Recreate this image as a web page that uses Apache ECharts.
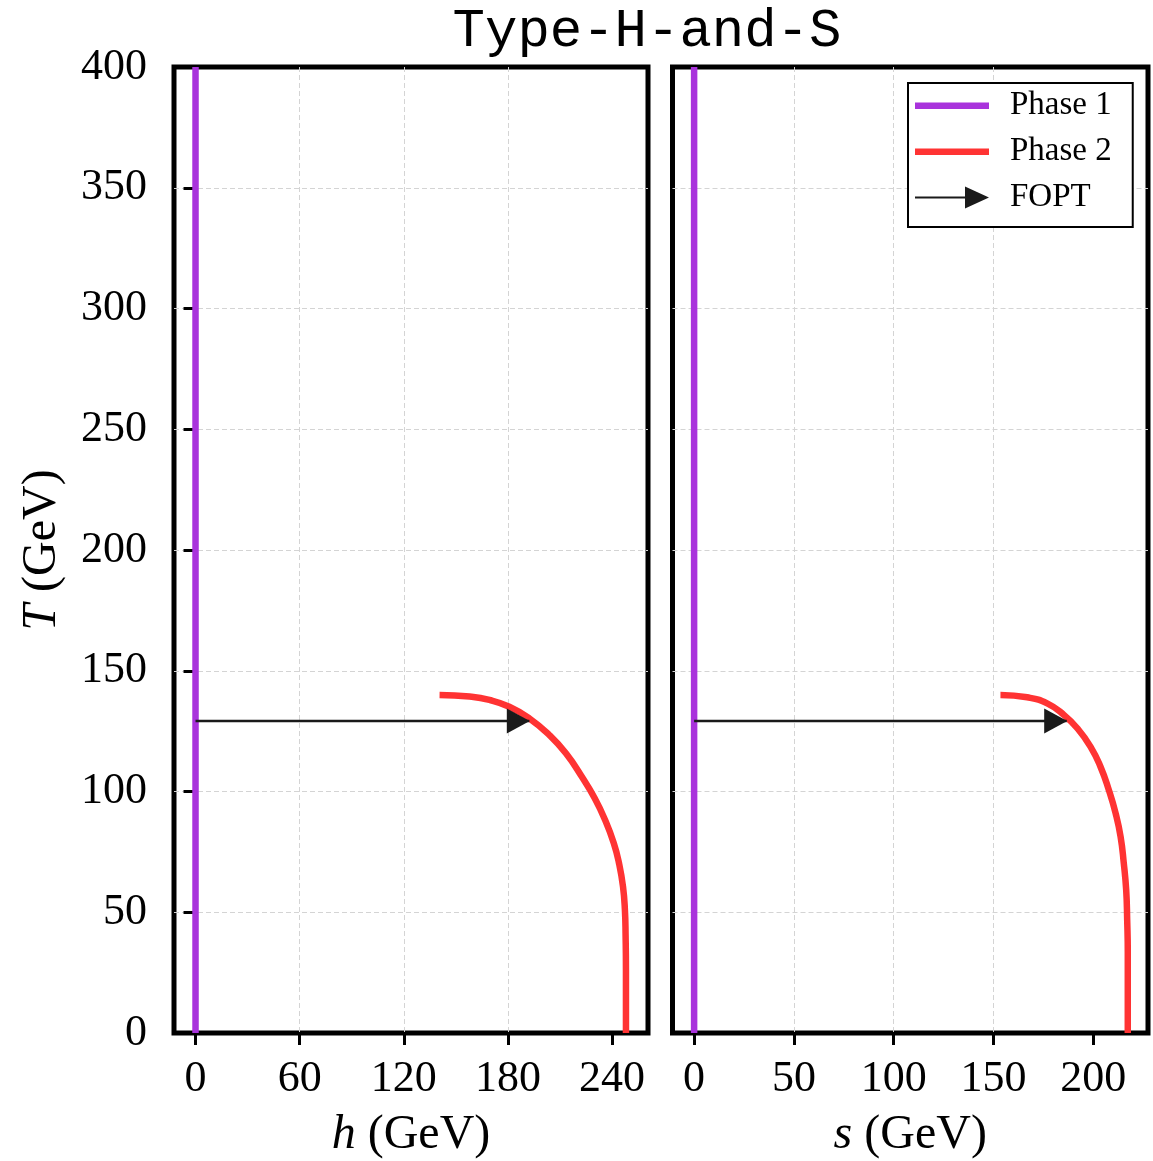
<!DOCTYPE html>
<html>
<head>
<meta charset="utf-8">
<script src="https://cdn.jsdelivr.net/npm/echarts@6/dist/echarts.min.js"></script>
<style>
  html, body { margin: 0; padding: 0; background: #fff; }
  #chart { width: 1153px; height: 1161px; }
</style>
</head>
<body>
<div id="chart"></div>
<script>
// data
const phase1T = [0, 400]
const phase1H = [0, 0]
const phase1S = [0, 0]

// phase 2, h panel
const phase2TH = [140.0, 139.3, 137.9, 135.1, 130.3, 123.4, 115.8, 106.1, 97.2, 88.2, 78.6, 70.3, 60.6, 50.9, 39.9, 26.1, 0]
const phase2H = [140.6, 157.9, 169.3, 180.8, 192.3, 203.8, 213.4, 222.6, 230.0, 236.0, 241.0, 244.0, 246.3, 247.4, 247.8, 248.0, 248.0]
// phase 2, s panel
const phase2TS = [140.0, 139.0, 136.5, 131.7, 126.2, 118.6, 110.3, 100.6, 91.0, 81.3, 70.3, 59.2, 46.8, 33.0, 0]
const phase2S = [153.5, 166.9, 176.9, 185.3, 192.0, 198.6, 203.6, 207.8, 211.2, 213.7, 215.3, 216.5, 217.0, 217.3, 217.3]

const foptT = [129.2, 129.2]
const foptH = [0, 192.3]
const foptS = [0, 186.7]

const hTicks = [0, 60, 120, 180, 240]
const sTicks = [0, 50, 100, 150, 200]

const PURPLE = '#a933dc'
const RED = '#ff3333'
const ARROW = '#1a1a1a'
const SERIF = 'Liberation Serif'

const zip = (xs, ys) => xs.map((x, i) => [x, ys[i]])

// arrow: plain line, triangle on the last point with its tip on the point
const arrowData = (xs, ys) => zip(xs, ys).map((p, i) => i === xs.length - 1
  ? { value: p, symbol: 'triangle', symbolSize: [25, 23], symbolRotate: -90, symbolOffset: [-11, 0] }
  : { value: p, symbol: 'none' })

// legend icons (tiny corner specks keep the bar thin inside a 74x22 box)
const BAR_ICON = 'path://M0,0 L0.01,0 L0,0.01 Z M0,8 L74,8 L74,14.5 L0,14.5 Z M74,22 L73.99,22 L74,21.99 Z'
const ARROW_ICON = 'path://M0,10 L50,10 L50,0 L74,11 L50,22 L50,12 L0,12 Z'

const chart = echarts.init(document.getElementById('chart'))

const gridLine = { show: true, showMinLine: false, showMaxLine: false, lineStyle: { color: '#d4d4d4', width: 1, type: [5, 3] } }
const tick = { show: true, inside: false, length: 12, lineStyle: { color: '#000', width: 3 } }
const label = { color: '#000', fontFamily: SERIF, fontSize: 44 }
const nameStyle = {
  color: '#000', fontFamily: SERIF, fontSize: 48,
  rich: { i: { fontFamily: SERIF, fontSize: 48, fontStyle: 'italic', color: '#000' } }
}

const xAxisOf = (idx, min, max, ticks, name) => ({
  type: 'value', gridIndex: idx, min: min, max: max,
  axisLine: { show: false },
  axisTick: Object.assign({ customValues: ticks }, tick),
  axisLabel: Object.assign({ customValues: ticks, margin: 24 }, label),
  splitLine: gridLine,
  name: name, nameLocation: 'middle', nameGap: 78, nameTextStyle: nameStyle
})

const gridOf = (left, width) => ({
  left: left, top: 67, width: width, height: 966,
  show: true, borderColor: '#000', borderWidth: 5,
  containLabel: false, outerBoundsMode: 'none'
})

const option = {
  animation: false,
  backgroundColor: '#fff',
  title: {
    text: 'Type-H-and-S', left: 642, top: 0, textAlign: 'center',
    textStyle: { fontFamily: 'Liberation Mono', fontSize: 54, fontWeight: 'normal', color: '#000' }
  },
  legend: {
    orient: 'vertical', left: 908, top: 83,
    padding: [6, 21, 13, 7], itemGap: 13, itemWidth: 74, itemHeight: 22,
    backgroundColor: '#fff', borderColor: '#000', borderWidth: 2, borderRadius: 0,
    textStyle: { color: '#000', fontFamily: SERIF, fontSize: 33, padding: [0, 0, 0, 16] },
    data: [
      { name: 'Phase 1', icon: BAR_ICON },
      { name: 'Phase 2', icon: BAR_ICON },
      { name: 'FOPT', icon: ARROW_ICON }
    ]
  },
  grid: [gridOf(174, 474), gridOf(672.5, 475.5)],
  xAxis: [
    xAxisOf(0, -12.4, 260.7, hTicks, '{i|h} (GeV)'),
    xAxisOf(1, -10.83, 227.43, sTicks, '{i|s} (GeV)')
  ],
  yAxis: [
    {
      type: 'value', gridIndex: 0, min: 0, max: 400, interval: 50,
      axisLine: { show: false }, axisTick: tick,
      axisLabel: Object.assign({ margin: 27 }, label),
      splitLine: gridLine,
      name: '{i|T} (GeV)', nameLocation: 'middle', nameGap: 108, nameTextStyle: nameStyle
    },
    {
      type: 'value', gridIndex: 1, min: 0, max: 400, interval: 50,
      axisLine: { show: false }, axisTick: { show: false }, axisLabel: { show: false },
      splitLine: gridLine
    }
  ],
  series: [
    { name: 'Phase 1', type: 'line', xAxisIndex: 0, yAxisIndex: 0, symbol: 'none', color: PURPLE,
      lineStyle: { width: 6.5, color: PURPLE }, data: zip(phase1H, phase1T) },
    { name: 'Phase 2', type: 'line', xAxisIndex: 0, yAxisIndex: 0, symbol: 'none', smooth: 0.5, color: RED,
      lineStyle: { width: 6.5, color: RED }, data: zip(phase2H, phase2TH) },
    { name: 'FOPT', type: 'line', xAxisIndex: 0, yAxisIndex: 0, color: ARROW, z: 3,
      itemStyle: { color: ARROW }, lineStyle: { width: 2.5, color: ARROW }, data: arrowData(foptH, foptT) },

    { name: 'Phase 1', type: 'line', xAxisIndex: 1, yAxisIndex: 1, symbol: 'none', color: PURPLE,
      lineStyle: { width: 6.5, color: PURPLE }, data: zip(phase1S, phase1T) },
    { name: 'Phase 2', type: 'line', xAxisIndex: 1, yAxisIndex: 1, symbol: 'none', smooth: 0.5, color: RED,
      lineStyle: { width: 6.5, color: RED }, data: zip(phase2S, phase2TS) },
    { name: 'FOPT', type: 'line', xAxisIndex: 1, yAxisIndex: 1, color: ARROW, z: 3,
      itemStyle: { color: ARROW }, lineStyle: { width: 2.5, color: ARROW }, data: arrowData(foptS, foptT) }
  ]
}

chart.setOption(option)
</script>
</body>
</html>
